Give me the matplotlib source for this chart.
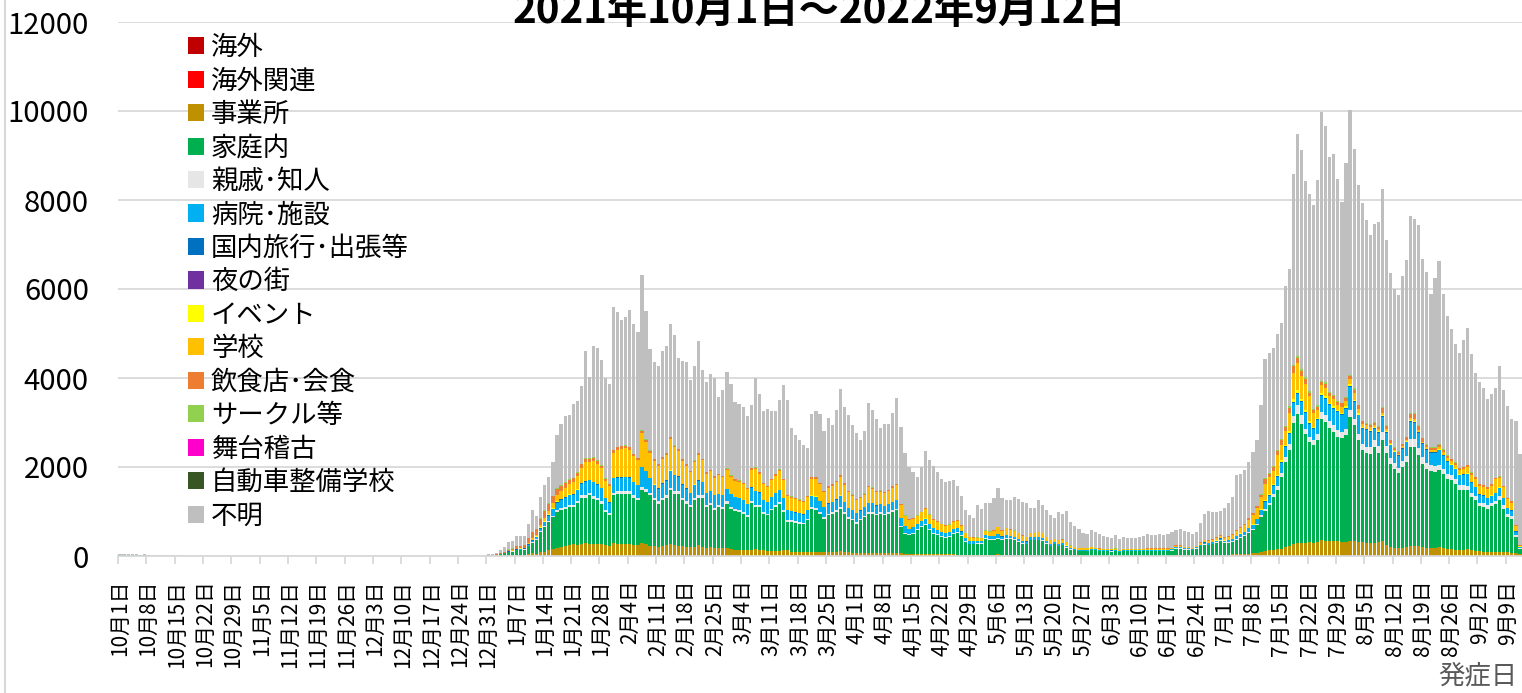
import numpy as np
import pandas as pd
import matplotlib
matplotlib.use("Agg")
import matplotlib.pyplot as plt
from matplotlib.lines import Line2D

plt.rcParams['font.family'] = ['Noto Sans CJK JP', 'DejaVu Sans']

# daily onset counts, 2021-10-01 .. 2022-09-12 (347 days)
dates = pd.date_range('2021-10-01', '2022-09-12')

total = (
    [45, 42, 38, 40, 36, 33, 35, 28, 25, 22, 20, 21, 17, 15, 13, 12, 10, 11, 9, 8, 9, 7, 6, 6, 5, 6, 5, 4, 5, 4, 4]  # Oct
    + [3, 4, 3, 3, 4, 2, 3, 3, 2, 3, 2, 3, 2, 2, 3, 2, 2, 3, 2, 1, 2, 2, 3, 2, 2, 1, 2, 3, 2, 2]  # Nov
    + [2, 1, 2, 2, 1, 2, 3, 2, 1, 2, 2, 1, 2, 2, 1, 2, 3, 2, 2, 3, 3, 4, 4, 5, 6, 8, 10, 12, 16, 22, 35]  # Dec
    + [35, 75, 140, 200, 315, 330, 440, 440, 455, 730, 1030, 890, 1330, 1590, 1780, 2110, 2730, 2960, 3150, 3160,
       3420, 3480, 3810, 4600, 4020, 4730, 4670, 4410, 4000, 3870, 5600]  # Jan
    + [5480, 5310, 5370, 5530, 5210, 5040, 6310, 5510, 4650, 4370, 4260, 4610, 4710, 5210, 4970, 4460, 4380, 4360,
       3960, 4280, 4830, 4190, 3910, 4100, 4010, 3570, 3720, 4130]  # Feb
    + [3870, 3460, 3410, 3350, 3140, 3390, 3990, 3630, 3260, 3310, 3250, 3250, 3500, 3850, 3500, 2880, 2710, 2610,
       2500, 2430, 3180, 3260, 3200, 2810, 3110, 2940, 3290, 3760, 3350, 3160, 2940]  # Mar
    + [2760, 2600, 2820, 3440, 3290, 3070, 2880, 2960, 2970, 3220, 3540, 2910, 2310, 1990, 1880, 1770, 1990, 2370,
       2150, 2030, 1890, 1720, 1670, 1690, 1710, 1570, 1350, 1040, 915, 855]  # Apr
    + [1140, 1065, 1190, 1190, 1300, 1535, 1300, 1265, 1250, 1320, 1280, 1205, 1190, 1080, 1080, 1265, 1140, 1040,
       930, 860, 1000, 935, 1010, 755, 680, 615, 515, 495, 575, 530, 485]  # May
    + [440, 420, 410, 480, 380, 425, 405, 410, 410, 420, 450, 495, 470, 465, 495, 465, 495, 530, 590, 600,
       555, 530, 485, 530, 735, 935, 1000, 980, 995, 1010]  # Jun
    + [1085, 1200, 1325, 1810, 1850, 1925, 2110, 2340, 2600, 3385, 4435, 4560, 4675, 5000, 5235, 6060, 6460, 8590,
       9475, 9115, 8425, 8140, 7880, 8440, 9980, 9655, 8970, 9040, 8480, 7955, 8830]  # Jul
    + [10030, 9140, 8330, 7930, 7545, 7205, 7470, 7500, 8250, 7090, 6360, 6010, 5870, 6285, 6660, 7630, 7580, 7430,
       6680, 6380, 5880, 6250, 6620, 5895, 5385, 5110, 4760, 4560, 4860, 5120, 4545]  # Aug
    + [4110, 3910, 3780, 3535, 3650, 3780, 4270, 3720, 3360, 3085, 3030, 2285]  # Sep
)

biz = (
    [3, 3, 2, 3, 2, 2, 2, 2, 1, 1, 1, 1, 1, 1, 1, 1, 0, 1, 0, 0, 1, 0, 0, 0, 0, 0, 0, 0, 0, 0, 0]
    + [0] * 30
    + [0] * 20 + [0, 0, 0, 0, 0, 0, 1, 1, 1, 1, 2]
    + [0, 2, 5, 8, 12, 15, 20, 22, 25, 40, 60, 55, 80, 100, 130, 150, 190, 210, 230, 240,
       260, 250, 260, 290, 260, 280, 270, 260, 240, 230, 290]
    + [270, 260, 260, 270, 250, 240, 300, 270, 230, 220, 210, 230, 240, 260, 250, 230, 220, 210, 200, 210,
       240, 210, 190, 200, 190, 170, 170, 180]
    + [150, 140, 140, 135, 125, 140, 160, 145, 125, 120, 115, 115, 120, 140, 125, 100, 90, 85, 80, 80,
       90, 95, 90, 80, 90, 85, 95, 105, 85, 80, 70]
    + [65, 60, 60, 75, 70, 65, 60, 60, 60, 65, 70, 60, 50, 45, 40, 40, 45, 50, 45, 42,
       40, 38, 35, 36, 36, 33, 30, 25, 22, 20]
    + [25, 25, 28, 28, 30, 35, 30, 28, 28, 30, 28, 26, 25, 22, 22, 26, 24, 22, 20, 18,
       20, 18, 20, 15, 14, 12, 10, 10, 11, 10, 9]
    + [9, 8, 8, 9, 7, 8, 8, 8, 8, 8, 9, 10, 9, 9, 10, 9, 10, 11, 12, 12, 11, 11, 10, 11, 15, 20, 22, 22, 24, 25]
    + [28, 32, 35, 45, 48, 50, 55, 60, 70, 90, 120, 125, 130, 150, 165, 200, 220, 280, 300, 290,
       300, 310, 300, 320, 350, 340, 330, 340, 330, 310, 320]
    + [340, 330, 320, 310, 300, 290, 300, 310, 330, 250, 200, 190, 185, 190, 200, 230, 230, 225, 200, 190,
       180, 185, 195, 170, 160, 150, 140, 130, 140, 150, 130]
    + [120, 110, 100, 95, 95, 90, 100, 90, 80, 70, 65, 50]
)

home = (
    [15, 14, 13, 14, 12, 11, 12, 10, 9, 8, 7, 8, 6, 5, 5, 4, 4, 4, 3, 3, 3, 2, 2, 2, 2, 2, 2, 1, 2, 1, 1]
    + [1, 1, 1, 1, 1, 0, 1, 1, 0, 1, 0, 1, 0, 0, 1, 0, 0, 1, 0, 0, 0, 0, 1, 0, 0, 0, 0, 1, 0, 0]
    + [0, 0, 1, 0, 0, 1, 1, 0, 0, 1, 0, 0, 1, 0, 0, 1, 1, 0, 1, 1, 1, 1, 1, 2, 2, 3, 3, 4, 5, 7, 10]
    + [10, 20, 35, 50, 75, 85, 110, 115, 120, 180, 230, 315, 460, 550, 635, 725, 800, 815, 835, 860,
       840, 940, 1050, 1020, 1105, 1010, 980, 915, 750, 685, 1075]
    + [1130, 1140, 1140, 1130, 1060, 1010, 1175, 1170, 1135, 1030, 965, 1020, 1070, 1215, 1150, 1170, 1030, 965,
       900, 1040, 1070, 1100, 910, 940, 835, 930, 890, 995]
    + [914, 871, 849, 816, 751, 1051, 941, 956, 826, 794, 911, 986, 1041, 849, 639, 664, 652, 642, 632, 721,
       974, 946, 861, 759, 824, 866, 894, 959, 866, 759, 731]
    + [662, 741, 816, 876, 881, 849, 891, 854, 891, 924, 956, 592, 452, 419, 462, 537, 607, 639, 532, 460,
       424, 389, 377, 391, 464, 484, 412, 290, 240, 242]
    + [252, 252, 362, 339, 337, 355, 322, 362, 347, 322, 287, 251, 237, 330, 330, 326, 313, 255, 197, 244,
       197, 222, 167, 127, 113, 100, 102, 102, 116, 117, 103]
    + [96, 97, 92, 103, 80, 104, 104, 104, 104, 104, 103, 102, 103, 103, 102, 103, 102, 109, 153, 153,
       131, 131, 117, 154, 202, 235, 218, 240, 268, 312]
    + [262, 268, 280, 322, 364, 392, 462, 517, 619, 786, 891, 1014, 1196, 1341, 1610, 1912, 2170, 2709, 2884, 2669,
       2449, 2252, 2187, 2294, 2736, 2671, 2554, 2447, 2344, 2349, 2392]
    + [2784, 2606, 2279, 2080, 2015, 2010, 2149, 2012, 2284, 2072, 1875, 1773, 1680, 1810, 1912, 2219, 2219, 2037,
       1875, 1773, 1730, 1703, 1730, 1665, 1578, 1550, 1485, 1361, 1351, 1326, 1196]
    + [1131, 1006, 1001, 969, 1021, 1071, 1166, 974, 796, 769, 362, 115]
)

relatives = (
    [0] * 92
    + [0, 1, 2, 3, 5, 5, 8, 8, 8, 12, 15, 15, 20, 25, 30, 35, 40, 45, 45, 50, 50, 50, 55, 60, 55, 60, 55, 55, 50, 45, 60]
    + [60, 60, 60, 60, 55, 55, 65, 60, 55, 50, 50, 55, 55, 60, 60, 55, 55, 50, 45, 50, 55, 50, 45, 45, 45, 45, 45, 50]
    + [45, 45, 40, 40, 40, 45, 50, 45, 40, 40, 40, 40, 45, 45, 40, 35, 35, 35, 30, 35, 40, 40, 35, 35, 35, 35, 40, 40,
       35, 35, 30]
    + [30, 30, 30, 35, 35, 30, 30, 30, 30, 35, 35, 30, 25, 25, 25, 25, 25, 30, 25, 25, 22, 22, 20, 20, 22, 25, 22, 18,
       15, 15]
    + [18, 18, 20, 20, 20, 22, 20, 20, 20, 20, 18, 16, 15, 18, 18, 18, 17, 15, 14, 14, 14, 14, 12, 10, 9, 8, 8, 8, 8, 8, 8]
    + [7, 7, 7, 8, 6, 7, 7, 7, 7, 7, 7, 7, 7, 7, 7, 7, 7, 8, 9, 9, 8, 8, 8, 9, 10, 12, 12, 13, 14, 15]
    + [15, 16, 17, 20, 22, 24, 27, 30, 35, 45, 55, 60, 70, 80, 90, 110, 120, 150, 200, 200,
       110, 110, 110, 135, 150, 150, 150, 150, 150, 130, 150]
    + [150, 150, 150, 135, 135, 150, 150, 150, 170, 150, 130, 120, 120, 130, 140, 170, 170, 160, 140, 130,
       125, 125, 130, 120, 115, 110, 105, 100, 100, 105, 95]
    + [90, 85, 80, 80, 80, 85, 90, 80, 65, 60, 40, 15]
)

hospital = (
    [0] * 92
    + [0, 1, 2, 3, 5, 5, 8, 10, 10, 20, 30, 35, 50, 80, 110, 140, 170, 190, 200, 220,
       230, 240, 260, 300, 280, 310, 300, 290, 260, 240, 320]
    + [300, 300, 310, 300, 290, 280, 450, 400, 330, 300, 290, 320, 330, 380, 350, 330, 300, 290, 270, 300,
       330, 300, 270, 270, 290, 250, 260, 280]
    + [280, 270, 270, 260, 250, 300, 300, 280, 260, 250, 260, 270, 280, 260, 220, 210, 200, 200, 190, 200,
       250, 250, 240, 220, 230, 230, 240, 250, 230, 210, 200]
    + [200, 190, 190, 210, 200, 190, 180, 180, 180, 190, 200, 170, 140, 120, 115, 110, 110, 120, 110, 100,
       95, 90, 85, 85, 90, 95, 85, 70, 60, 55]
    + [50, 50, 60, 60, 65, 75, 65, 65, 60, 60, 55, 50, 48, 50, 50, 55, 50, 45, 40, 38, 40, 38, 35, 28, 25, 22, 20, 20,
       22, 20, 18]
    + [18, 17, 16, 18, 15, 17, 16, 16, 16, 17, 18, 20, 19, 19, 20, 19, 20, 22, 25, 25, 23, 22, 20, 22, 28, 35, 35, 35,
       38, 40]
    + [40, 45, 50, 60, 65, 70, 80, 90, 100, 110, 150, 160, 180, 200, 230, 220, 240, 300, 260, 300,
       350, 300, 260, 300, 350, 375, 350, 375, 410, 375, 450]
    + [525, 375, 410, 340, 375, 340, 260, 300, 340, 300, 280, 250, 260, 280, 300, 400, 380, 340, 300, 290,
       280, 300, 320, 300, 270, 230, 220, 220, 230, 260, 230]
    + [200, 180, 170, 150, 150, 160, 170, 150, 130, 120, 80, 30]
)

travel = (
    [0] * 92
    + [0, 1, 2, 3, 5, 5, 7, 8, 8, 12, 15, 15, 15, 15, 12, 12, 10, 10, 8, 8, 8, 8, 8, 8, 6, 6, 6, 6, 5, 5, 6]
    + [6, 6, 6, 6, 5, 5, 8, 6, 5, 5, 5, 5, 5, 6, 5, 5, 5, 4, 4, 4, 5, 4, 4, 4, 4, 4, 4, 4]
    + [4, 4, 4, 4, 3, 4, 5, 4, 4, 3, 4, 4, 4, 4, 3, 3, 3, 3, 3, 3, 4, 4, 3, 3, 3, 3, 4, 4, 3, 3, 3]
    + [3, 3, 3, 4, 3, 3, 3, 3, 3, 3, 4, 3, 2, 2, 2, 2, 2, 3, 2, 2, 2, 2, 2, 2, 2, 2, 2, 2, 2, 2]
    + [2, 2, 3, 3, 3, 3, 2, 2, 2, 2, 2, 2, 2, 2, 2, 2, 2, 2, 1, 1, 1, 1, 1, 1, 1, 1, 1, 1, 1, 1, 1]
    + [1, 1, 1, 1, 1, 1, 1, 1, 1, 1, 1, 1, 1, 1, 1, 1, 1, 1, 1, 1, 1, 1, 1, 1, 2, 2, 2, 2, 3, 3]
    + [3, 3, 4, 5, 5, 6, 7, 8, 9, 10, 15, 15, 18, 20, 22, 25, 25, 30, 30, 30, 25, 25, 20, 20, 25, 25, 25, 25, 25, 20, 25]
    + [25, 25, 20, 20, 20, 20, 20, 20, 20, 18, 15, 15, 15, 15, 15, 20, 20, 18, 15, 15, 15, 15, 15, 14, 13, 12, 12, 12,
       12, 12, 12]
    + [10, 10, 10, 9, 9, 9, 10, 9, 8, 7, 5, 2]
)

event = (
    [0] * 92
    + [0, 0, 1, 2, 4, 5, 6, 6, 6, 10, 15, 15, 20, 20, 20, 18, 16, 14, 12, 10, 8, 8, 8, 8, 6, 6, 6, 5, 5, 4, 6]
    + [5, 5, 5, 5, 4, 4, 6, 5, 4, 4, 4, 4, 4, 5, 4, 4, 4, 3, 3, 3, 4, 3, 3, 3, 3, 3, 3, 3]
    + [3, 3, 3, 3, 2, 3, 3, 3, 2, 2, 2, 2, 3, 3, 2, 2, 2, 2, 2, 2, 3, 3, 2, 2, 2, 2, 3, 3, 2, 2, 2]
    + [2, 2, 2, 2, 2, 2, 2, 2, 2, 2, 2, 2, 1, 1, 1, 1, 1, 1, 1, 1, 1, 1, 1, 1, 1, 1, 1, 1, 1, 1]
    + [1, 1, 1, 1, 1, 2, 1, 1, 1, 1, 1, 1, 1, 1, 1, 1, 1, 1, 1, 1, 1, 1, 1, 0, 0, 0, 0, 0, 0, 0, 0]
    + [0] * 24 + [1, 1, 1, 1, 2, 2]
    + [2, 2, 3, 3, 4, 4, 5, 6, 8, 10, 20, 20, 25, 25, 30, 35, 40, 50, 50, 45, 40, 35, 30, 30, 45, 35, 30, 30, 30, 25, 30]
    + [40, 30, 25, 15, 15, 15, 15, 15, 20, 15, 12, 12, 12, 12, 12, 15, 15, 14, 12, 12, 12, 12, 12, 10, 10, 10, 10, 10,
       10, 10, 10]
    + [8, 8, 8, 7, 7, 7, 8, 7, 6, 5, 4, 2]
)

school = (
    [0] * 92
    + [0, 1, 2, 3, 5, 6, 8, 10, 10, 20, 30, 30, 45, 60, 80, 110, 140, 170, 200, 230,
       260, 300, 340, 420, 400, 470, 460, 440, 380, 360, 560]
    + [620, 640, 650, 620, 580, 560, 750, 650, 560, 520, 500, 540, 560, 700, 620, 560, 520, 500, 460, 500,
       560, 480, 430, 440, 390, 420, 400, 420]
    + [380, 360, 360, 350, 330, 400, 490, 420, 360, 340, 370, 390, 420, 400, 320, 300, 290, 280, 270, 290,
       380, 400, 380, 340, 350, 360, 380, 420, 380, 340, 320]
    + [300, 280, 280, 340, 320, 300, 280, 280, 290, 320, 320, 280, 220, 200, 190, 180, 190, 210, 200, 190,
       180, 170, 160, 160, 160, 150, 130, 100, 80, 80]
    + [60, 55, 90, 90, 110, 150, 130, 140, 130, 130, 120, 110, 100, 90, 90, 110, 100, 90, 80, 70,
       80, 75, 70, 50, 40, 35, 30, 30, 35, 30, 28]
    + [25, 24, 23, 26, 20, 24, 23, 23, 23, 24, 26, 28, 27, 27, 28, 27, 28, 30, 35, 35, 32, 30, 28, 30, 40, 50, 55, 55,
       58, 60]
    + [60, 70, 80, 100, 120, 140, 170, 200, 230, 270, 375, 375, 300, 450, 350, 300, 400, 600, 620, 510,
       600, 560, 300, 190, 180, 190, 150, 150, 110, 150, 110]
    + [110, 150, 110, 75, 75, 75, 50, 40, 50, 40, 30, 25, 25, 25, 30, 40, 40, 35, 30, 30,
       30, 35, 40, 50, 60, 70, 80, 90, 110, 130, 150]
    + [170, 180, 190, 200, 220, 300, 200, 230, 190, 170, 120, 20]
)

food = (
    [4, 4, 3, 3, 3, 3, 3, 2, 2, 2, 2, 2, 1, 1, 1, 1, 1, 1, 1, 0, 1, 0, 0, 0, 0, 0, 0, 0, 0, 0, 0]
    + [0] * 30
    + [0] * 20 + [0, 1, 1, 1, 1, 1, 2, 2, 3, 4, 6]
    + [3, 8, 15, 25, 35, 40, 50, 50, 55, 100, 140, 120, 150, 160, 160, 150, 140, 120, 110, 100,
       90, 80, 80, 80, 70, 70, 65, 60, 50, 45, 55]
    + [50, 50, 50, 50, 45, 45, 55, 50, 45, 40, 40, 40, 40, 45, 40, 40, 35, 35, 30, 35, 40, 35, 30, 30, 30, 25, 25, 30]
    + [30, 28, 28, 28, 25, 30, 35, 30, 28, 25, 25, 28, 30, 28, 25, 22, 22, 20, 20, 22, 28, 30, 28, 25, 28, 28, 30, 35,
       30, 28, 25]
    + [25, 22, 22, 28, 25, 25, 22, 22, 22, 25, 28, 22, 18, 16, 15, 14, 15, 18, 16, 15, 14, 13, 12, 12, 13, 12, 10, 8, 7, 7]
    + [6, 6, 8, 8, 9, 10, 9, 9, 8, 8, 8, 7, 7, 7, 7, 8, 7, 6, 6, 5, 6, 5, 5, 4, 4, 3, 3, 3, 3, 3, 3]
    + [3, 3, 3, 3, 2, 3, 3, 3, 3, 3, 3, 3, 3, 3, 3, 3, 3, 4, 4, 4, 4, 4, 3, 4, 6, 8, 10, 10, 12, 14]
    + [15, 18, 20, 25, 30, 35, 40, 45, 50, 60, 110, 75, 90, 100, 110, 100, 120, 140, 110, 120,
       110, 75, 70, 70, 75, 90, 75, 75, 70, 70, 75]
    + [75, 75, 70, 50, 40, 50, 50, 60, 110, 80, 60, 50, 45, 50, 55, 100, 110, 90, 70, 60,
       55, 55, 60, 55, 50, 45, 45, 45, 45, 50, 45]
    + [40, 35, 35, 30, 30, 35, 40, 30, 25, 25, 15, 5]
)

circle = (
    [2, 2, 2, 2, 1, 1, 1, 1, 1, 1, 1, 1, 1, 1, 0, 0, 0, 0, 0, 0, 0, 0, 0, 0, 0, 0, 0, 0, 0, 0, 0]
    + [0] * 61
    + [0, 1, 2, 2, 3, 4, 5, 5, 5, 8, 10, 10, 12, 15, 15, 15, 15, 14, 14, 13, 12, 12, 12, 12, 10, 10, 10, 10, 8, 8, 10]
    + [10, 10, 10, 10, 10, 9, 12, 10, 9, 8, 8, 8, 8, 10, 9, 8, 8, 8, 7, 8, 8, 7, 7, 7, 6, 6, 6, 6]
    + [6, 6, 6, 5, 5, 6, 7, 6, 5, 5, 5, 5, 6, 6, 5, 5, 5, 4, 4, 5, 6, 6, 5, 5, 5, 5, 6, 6, 5, 5, 5]
    + [5, 4, 4, 5, 5, 4, 4, 4, 4, 5, 5, 4, 4, 3, 3, 3, 3, 4, 3, 3, 3, 3, 3, 3, 3, 3, 2, 2, 2, 2]
    + [2, 2, 2, 2, 2, 3, 2, 2, 2, 2, 2, 2, 2, 2, 2, 2, 2, 2, 1, 1, 1, 1, 1, 1, 1, 1, 1, 1, 1, 1, 1]
    + [1, 1, 1, 1, 1, 1, 1, 1, 1, 1, 1, 1, 1, 1, 1, 1, 1, 1, 1, 1, 1, 1, 1, 1, 1, 2, 2, 2, 2, 2]
    + [2, 2, 3, 3, 4, 4, 5, 5, 6, 8, 20, 15, 18, 20, 20, 25, 25, 40, 50, 40, 35, 30, 25, 25, 30, 30, 25, 25, 25, 20, 25]
    + [25, 25, 20, 15, 15, 15, 15, 15, 25, 20, 15, 12, 12, 12, 15, 20, 20, 18, 15, 15, 12, 12, 12, 12, 10, 10, 10, 10,
       10, 10, 10]
    + [8, 8, 8, 7, 7, 7, 8, 7, 6, 5, 4, 2]
)

overseas = [0] * 347
overseas_rel = [0] * 347
nightlife = [0] * 347
stage = [0] * 347
car_school = [0] * 347

known = [overseas, overseas_rel, biz, home, relatives, hospital, travel, nightlife,
         event, school, food, circle, stage, car_school]
for s in known + [total]:
    assert len(s) == len(dates), len(s)
unknown = np.maximum(np.array(total) - np.sum(np.array(known), axis=0), 0)

names = ['海外', '海外関連', '事業所', '家庭内', '親戚･知人', '病院･施設', '国内旅行･出張等',
         '夜の街', 'イベント', '学校', '飲食店･会食', 'サークル等', '舞台稽古', '自動車整備学校', '不明']
colors = ['#C00000', '#FF0000', '#BF9000', '#00B050', '#E7E6E6', '#00B0F0', '#0070C0',
          '#7030A0', '#FFFF00', '#FFC000', '#ED7D31', '#92D050', '#FF00CC', '#375623', '#BFBFBF']
series = known + [unknown]

W, H = 1522, 693
fig = plt.figure(figsize=(W / 100, H / 100), dpi=100)
ax = fig.add_axes([118 / W, 1 - 556 / H, (W - 118) / W, (556 - 22) / H])

x = np.arange(len(dates))
bottom = np.zeros(len(dates))
for name, col, vals in zip(names, colors, series):
    vals = np.array(vals, dtype=float)
    ax.bar(x, vals, bottom=bottom, width=0.78, color=col, label=name, linewidth=0, zorder=2)
    bottom += vals

ax.set_xlim(-0.5, len(dates) - 0.5)
ax.set_ylim(0, 12000)
ax.set_yticks(range(0, 12001, 2000))
ax.tick_params(axis='y', length=0, labelsize=21, pad=21)
ax.grid(axis='y', color='#D9D9D9', lw=1.3, zorder=0)
ax.set_axisbelow(True)

lab_idx = np.arange(0, len(dates), 7)
ax.set_xticks(lab_idx)
ax.set_xticklabels([f'{d.month}月{d.day}日' for d in dates[lab_idx]], rotation=90, fontsize=15)
ax.set_xticks(np.arange(-0.5, len(dates), 7), minor=True)
ax.tick_params(axis='x', which='major', length=0, pad=17)
ax.tick_params(axis='x', which='minor', length=6, color='#D9D9D9', width=1.3)

for side in ['top', 'right', 'left']:
    ax.spines[side].set_visible(False)
ax.spines['bottom'].set_color('#D9D9D9')
ax.spines['bottom'].set_linewidth(1.3)

leg = ax.legend(loc='upper left', bbox_to_anchor=(188 / W, 1 - 34 / H), bbox_transform=fig.transFigure,
                frameon=False, fontsize=19, handlelength=0.62, handleheight=0.62, handletextpad=0.25,
                labelspacing=0.245, borderpad=0, borderaxespad=0)

fig.text(819 / W, 1 - 23 / H, '2021年10月1日～2022年9月12日', ha='center', va='baseline',
         fontsize=29, fontweight='bold')
fig.text(1517 / W, 1 - 676 / H, '発症日', ha='right', va='center', fontsize=19, color='#595959')
fig.add_artist(Line2D([5 / W, 5 / W], [0, 1], transform=fig.transFigure, color='#D9D9D9', lw=1.5))

fig.savefig('out.png', dpi=100)
